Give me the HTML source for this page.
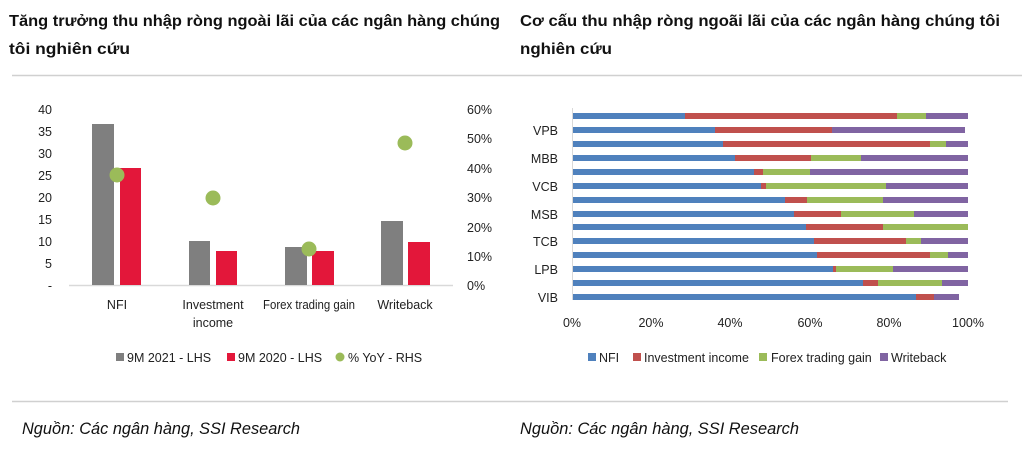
<!DOCTYPE html>
<html><head><meta charset="utf-8"><style>
html,body{margin:0;padding:0;background:#fff;width:1024px;height:450px;overflow:hidden}
svg{display:block;font-family:"Liberation Sans",sans-serif}
</style></head><body>
<svg width="1024" height="450" viewBox="0 0 1024 450" xmlns="http://www.w3.org/2000/svg">
<g font-weight="bold" font-size="16" fill="#111">
<text x="9" y="26" textLength="491" lengthAdjust="spacingAndGlyphs">Tăng trưởng thu nhập ròng ngoài lãi của các ngân hàng chúng</text>
<text x="9" y="54" textLength="121" lengthAdjust="spacingAndGlyphs">tôi nghiên cứu</text>
<text x="520" y="26" textLength="480" lengthAdjust="spacingAndGlyphs">Cơ cấu thu nhập ròng ngoãi lãi của các ngân hàng chúng tôi</text>
<text x="520" y="54" textLength="92" lengthAdjust="spacingAndGlyphs">nghiên cứu</text>
</g>
<line x1="12" y1="75.5" x2="1022" y2="75.5" stroke="#d0d0d0" stroke-width="1.5"/>
<line x1="12" y1="401.5" x2="1008" y2="401.5" stroke="#d0d0d0" stroke-width="1.5"/>
<g font-style="italic" font-size="17" fill="#111">
<text x="22" y="434" textLength="278" lengthAdjust="spacingAndGlyphs">Nguồn: Các ngân hàng, SSI Research</text>
<text x="520" y="434" textLength="279" lengthAdjust="spacingAndGlyphs">Nguồn: Các ngân hàng, SSI Research</text>
</g>

<!-- Left chart -->
<g font-size="12.5" fill="#222">
<g text-anchor="end">
<text x="52" y="114">40</text><text x="52" y="136">35</text><text x="52" y="158">30</text>
<text x="52" y="180">25</text><text x="52" y="202">20</text><text x="52" y="224">15</text>
<text x="52" y="246">10</text><text x="52" y="268">5</text><text x="52" y="290">-</text>
</g>
<text x="467" y="114">60%</text><text x="467" y="143">50%</text><text x="467" y="173">40%</text>
<text x="467" y="202">30%</text><text x="467" y="232">20%</text><text x="467" y="261">10%</text>
<text x="467" y="290">0%</text>
</g>
<line x1="69" y1="285.5" x2="453" y2="285.5" stroke="#d9d9d9" stroke-width="1.5"/>
<g fill="#7f7f7f">
<rect x="92" y="124" width="22" height="161"/>
<rect x="189" y="241" width="21" height="44"/>
<rect x="285" y="247" width="22" height="38"/>
<rect x="381" y="221" width="22" height="64"/>
</g>
<g fill="#e3173a">
<rect x="120" y="168" width="21" height="117"/>
<rect x="216" y="251" width="21" height="34"/>
<rect x="312" y="251" width="22" height="34"/>
<rect x="408" y="242" width="22" height="43"/>
</g>
<g fill="#9bbb59">
<circle cx="117" cy="175" r="7.5"/><circle cx="213" cy="198" r="7.5"/>
<circle cx="309" cy="249" r="7.5"/><circle cx="405" cy="143" r="7.5"/>
</g>
<g font-size="12.5" fill="#222" text-anchor="middle">
<text x="117" y="309">NFI</text>
<text x="213" y="309">Investment</text><text x="213" y="327">income</text>
<text x="309" y="309" textLength="92" lengthAdjust="spacingAndGlyphs">Forex trading gain</text>
<text x="405" y="309">Writeback</text>
</g>
<g font-size="12.5" fill="#222">
<rect x="116" y="353" width="8" height="8" fill="#7f7f7f"/><text x="127" y="362">9M 2021 - LHS</text>
<rect x="227" y="353" width="8" height="8" fill="#e3173a"/><text x="238" y="362">9M 2020 - LHS</text>
<circle cx="340" cy="357" r="4.5" fill="#9bbb59"/><text x="348" y="362">% YoY - RHS</text>
</g>

<!-- Right chart -->
<line x1="572.5" y1="108" x2="572.5" y2="300" stroke="#d9d9d9" stroke-width="1"/>
<g id="bars"></g>
<g font-size="12.5" fill="#222" text-anchor="end">
<text x="558" y="135">VPB</text><text x="558" y="163">MBB</text><text x="558" y="191">VCB</text>
<text x="558" y="219">MSB</text><text x="558" y="246">TCB</text><text x="558" y="274">LPB</text>
<text x="558" y="302">VIB</text>
</g>
<g font-size="12.5" fill="#222" text-anchor="middle">
<text x="572" y="327">0%</text><text x="651" y="327">20%</text><text x="730" y="327">40%</text>
<text x="810" y="327">60%</text><text x="889" y="327">80%</text><text x="968" y="327">100%</text>
</g>
<g font-size="12.5" fill="#222">
<rect x="588" y="353" width="8" height="8" fill="#4f81bd"/><text x="599" y="362">NFI</text>
<rect x="633" y="353" width="8" height="8" fill="#c0504d"/><text x="644" y="362">Investment income</text>
<rect x="759" y="353" width="8" height="8" fill="#9bbb59"/><text x="771" y="362">Forex trading gain</text>
<rect x="880" y="353" width="8" height="8" fill="#8064a2"/><text x="891" y="362">Writeback</text>
</g>
<g>
<!-- generated bars -->
<g fill="#4f81bd">
<rect x="573" y="113" width="112" height="6"/><rect x="573" y="127" width="142" height="6"/>
<rect x="573" y="141" width="150" height="6"/><rect x="573" y="155" width="162" height="6"/>
<rect x="573" y="169" width="181" height="6"/><rect x="573" y="183" width="188" height="6"/>
<rect x="573" y="197" width="212" height="6"/><rect x="573" y="211" width="221" height="6"/>
<rect x="573" y="224" width="233" height="6"/><rect x="573" y="238" width="241" height="6"/>
<rect x="573" y="252" width="244" height="6"/><rect x="573" y="266" width="260" height="6"/>
<rect x="573" y="280" width="290" height="6"/><rect x="573" y="294" width="343" height="6"/>
</g>
<g fill="#c0504d">
<rect x="685" y="113" width="212" height="6"/><rect x="715" y="127" width="117" height="6"/>
<rect x="723" y="141" width="207" height="6"/><rect x="735" y="155" width="76" height="6"/>
<rect x="754" y="169" width="9" height="6"/><rect x="761" y="183" width="5" height="6"/>
<rect x="785" y="197" width="22" height="6"/><rect x="794" y="211" width="47" height="6"/>
<rect x="806" y="224" width="77" height="6"/><rect x="814" y="238" width="92" height="6"/>
<rect x="817" y="252" width="113" height="6"/><rect x="833" y="266" width="3" height="6"/>
<rect x="863" y="280" width="15" height="6"/><rect x="916" y="294" width="18" height="6"/>
</g>
<g fill="#9bbb59">
<rect x="897" y="113" width="29" height="6"/>
<rect x="930" y="141" width="16" height="6"/><rect x="811" y="155" width="50" height="6"/>
<rect x="763" y="169" width="47" height="6"/><rect x="766" y="183" width="120" height="6"/>
<rect x="807" y="197" width="76" height="6"/><rect x="841" y="211" width="73" height="6"/>
<rect x="883" y="224" width="85" height="6"/><rect x="906" y="238" width="15" height="6"/>
<rect x="930" y="252" width="18" height="6"/><rect x="836" y="266" width="57" height="6"/>
<rect x="878" y="280" width="64" height="6"/>
</g>
<g fill="#8064a2">
<rect x="926" y="113" width="42" height="6"/><rect x="832" y="127" width="133" height="6"/>
<rect x="946" y="141" width="22" height="6"/><rect x="861" y="155" width="107" height="6"/>
<rect x="810" y="169" width="158" height="6"/><rect x="886" y="183" width="82" height="6"/>
<rect x="883" y="197" width="85" height="6"/><rect x="914" y="211" width="54" height="6"/>
<rect x="921" y="238" width="47" height="6"/>
<rect x="948" y="252" width="20" height="6"/><rect x="893" y="266" width="75" height="6"/>
<rect x="942" y="280" width="26" height="6"/><rect x="934" y="294" width="25" height="6"/>
</g>
</g>
</svg>
</body></html>
